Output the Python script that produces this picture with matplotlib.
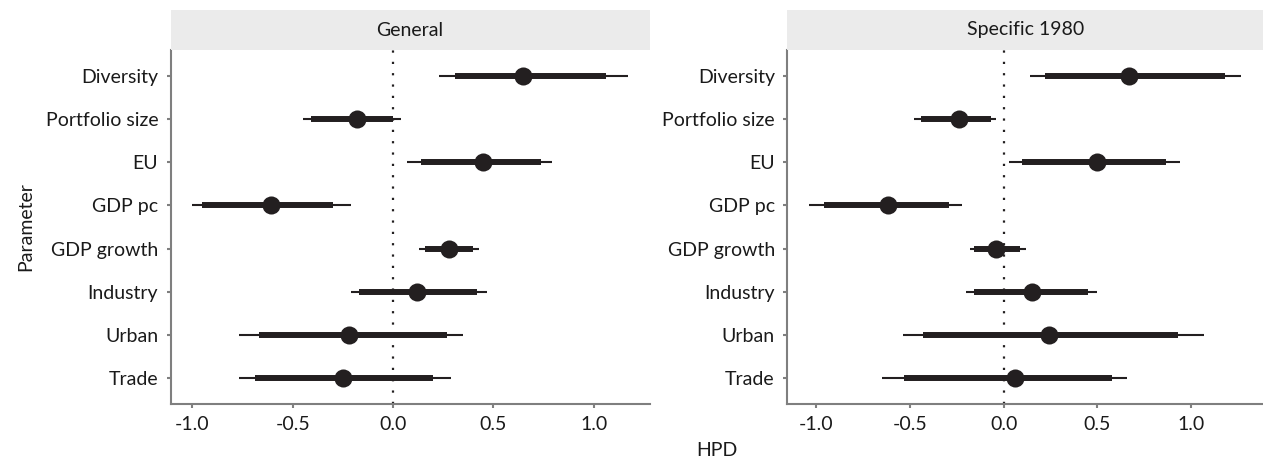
import matplotlib
matplotlib.use("Agg")
import matplotlib.pyplot as plt
from matplotlib.ticker import FixedLocator, FuncFormatter

plt.rcParams['font.family'] = ['Lato', 'DejaVu Sans']
plt.rcParams['axes.unicode_minus'] = False

params = ["Diversity", "Portfolio size", "EU", "GDP pc", "GDP growth",
          "Industry", "Urban", "Trade"]

panels = ["General", "Specific 1980"]

general_est = [0.65, -0.18, 0.45, -0.61, 0.28, 0.12, -0.22, -0.25]
general_lo95 = [0.23, -0.45, 0.07, -1.00, 0.13, -0.21, -0.77, -0.77]
general_hi95 = [1.17, 0.04, 0.79, -0.21, 0.43, 0.47, 0.35, 0.29]
general_lo80 = [0.31, -0.41, 0.14, -0.95, 0.16, -0.17, -0.67, -0.69]
general_hi80 = [1.06, 0.00, 0.74, -0.30, 0.40, 0.42, 0.27, 0.20]

specific_est = [0.67, -0.24, 0.50, -0.62, -0.04, 0.15, 0.24, 0.06]
specific_lo95 = [0.14, -0.48, 0.03, -1.04, -0.18, -0.20, -0.54, -0.65]
specific_hi95 = [1.27, -0.04, 0.94, -0.22, 0.12, 0.50, 1.07, 0.66]
specific_lo80 = [0.22, -0.44, 0.10, -0.96, -0.16, -0.16, -0.43, -0.53]
specific_hi80 = [1.18, -0.07, 0.87, -0.29, 0.09, 0.45, 0.93, 0.58]

x_ticks = [-1.0, -0.5, 0.0, 0.5, 1.0]

data = [
    (general_est, general_lo95, general_hi95, general_lo80, general_hi80),
    (specific_est, specific_lo95, specific_hi95, specific_lo80, specific_hi80),
]

W, H = 1263, 459
fig = plt.figure(figsize=(W / 100, H / 100), dpi=100)

mark = '#231f20'
spine_c = '#7f7f7f'
txt_c = '#1a1a1a'
fs = 14

ax_px = [(170.7, 649.5), (787.3, 1263.0)]
top_px, bot_px = 50.0, 404.0
strip_top = 10.0

ypos = list(range(1, len(params) + 1))

for (x0, x1), name, (est, lo95, hi95, lo80, hi80) in zip(ax_px, panels, data):
    ax = fig.add_axes([x0 / W, (H - bot_px) / H, (x1 - x0) / W, (bot_px - top_px) / H])
    ax.axvline(0, color=mark, lw=1.6, linestyle=(0, (1, 4.1)), dash_capstyle='butt', zorder=1)
    ax.hlines(ypos, lo95, hi95, color=mark, lw=1.5, capstyle='butt', zorder=2)
    ax.hlines(ypos, lo80, hi80, color=mark, lw=4.3, capstyle='butt', zorder=3)
    ax.plot(est, ypos, 'o', color=mark, ms=13, mec='none', zorder=4)
    ax.margins(x=0.05)
    ax.set_ylim(len(params) + 0.6, 0.4)
    ax.set_yticks(ypos)
    ax.set_yticklabels(params)
    ax.xaxis.set_major_locator(FixedLocator(x_ticks))
    ax.xaxis.set_major_formatter(FuncFormatter(lambda v, p: f"{v:.1f}"))
    for s in ['top', 'right']:
        ax.spines[s].set_visible(False)
    for s in ['left', 'bottom']:
        ax.spines[s].set_color(spine_c)
        ax.spines[s].set_linewidth(1.5)
    ax.tick_params(axis='both', colors=spine_c, length=3, width=1.5,
                   labelsize=fs, labelcolor=txt_c, pad=6)
    # strip
    sax = fig.add_axes([x0 / W, (H - top_px) / H, (x1 - x0) / W, (top_px - strip_top) / H])
    sax.set_facecolor('#ebebeb')
    sax.set_xticks([])
    sax.set_yticks([])
    for s in sax.spines.values():
        s.set_visible(False)
    sax.text(0.5, 0.5, name, ha='center', va='center', fontsize=fs, color=txt_c,
             transform=sax.transAxes)

fig.text((170.7 + 1263) / 2 / W, 1 - 450 / H, "HPD", ha='center', va='center',
         fontsize=fs, color=txt_c)
fig.text(25.5 / W, 1 - 227 / H, "Parameter", ha='center', va='center',
         rotation=90, fontsize=fs, color=txt_c)

fig.savefig("out.png", dpi=100)
